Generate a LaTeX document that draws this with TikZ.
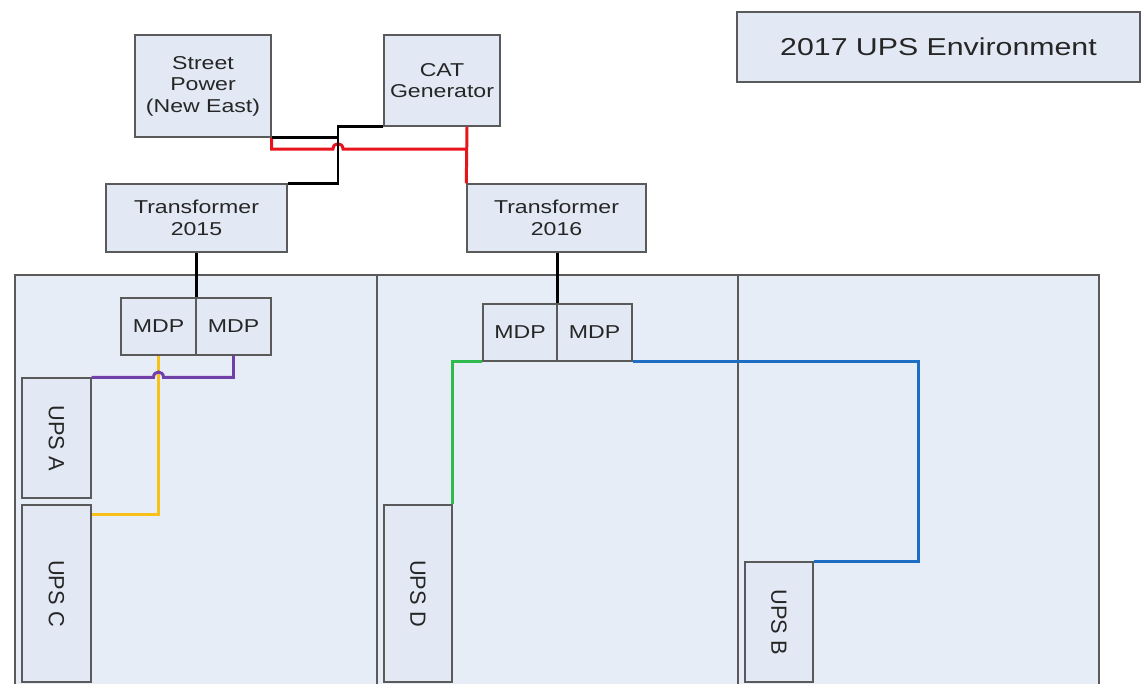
\documentclass[tikz,border=0pt]{standalone}
\usepackage{fontspec}
\setmainfont{Liberation Sans}
\newfontfamily\widesans[FakeStretch=1.24]{Liberation Sans}
\usepackage{xcolor}
\usetikzlibrary{calc}
\definecolor{boxfill}{HTML}{E2E9F4}
\definecolor{roomfill}{HTML}{E7EDF7}
\definecolor{edge}{HTML}{5A5A5A}
\definecolor{wpurple}{HTML}{7040A8}
\definecolor{wyellow}{HTML}{F7C11A}
\definecolor{wgreen}{HTML}{2EBA4E}
\definecolor{wblue}{HTML}{1E6EC4}
\definecolor{wred}{HTML}{E8141B}
\newcommand{\upslabel}[1]{\rotatebox{-90}{\scalebox{1}[1.25]{\fontsize{10}{12}\selectfont #1}}}
\tikzset{
  box/.style={draw=edge, fill=boxfill, line width=0.8pt, inner sep=0pt, align=center, text=black!85, font=\widesans\fontsize{10.6}{12.2}\selectfont},
  room/.style={draw=edge, fill=roomfill, line width=0.8pt, inner sep=0pt},
  wire/.style={line width=1.7pt}
}

\begin{document}
\begin{tikzpicture}[x=0.2mm, y=-0.2mm]
	\useasboundingbox (0,0) rectangle (1143,683);
	\clip (0,0) rectangle (1143,683);
	\fill[white] (0,0) rectangle (1143,683);
	
	% rooms
	\node[room, minimum width=72.4mm, minimum height=85mm] (room1) at (196,487.5) {};
	\node[room, minimum width=72.2mm, minimum height=85mm] (room2) at (557.5,487.5) {};
	\node[room, minimum width=72.2mm, minimum height=85mm] (room3) at (918.5,487.5) {};
	
	% sources
	\node[box, minimum width=27.2mm, minimum height=20.4mm] (street) at (203,86) {Street\\Power\\(New East)};
	\node[box, minimum width=23.2mm, minimum height=18.2mm] (cat) at (442,80.5) {CAT\\Generator};
	\node[box, minimum width=80.6mm, minimum height=14mm, font=\widesans\fontsize{13.9}{16}\selectfont] (title) at (938.5,47) {2017 UPS Environment};
	
	\node[box, minimum width=36.2mm, minimum height=13.6mm] (tr15) at (196.5,218) {Transformer\\2015};
	\node[box, minimum width=35.8mm, minimum height=13.6mm] (tr16) at (556.5,218) {Transformer\\2016};
	
	% panels
	\node[box, minimum width=15mm, minimum height=11.4mm] (mdp1a) at (158.5,326.5) {MDP};
	\node[box, minimum width=15mm, minimum height=11.4mm] (mdp1b) at (233.5,326.5) {MDP};
	\node[box, minimum width=14.8mm, minimum height=11.4mm] (mdp2a) at (520,332.5) {MDP};
	\node[box, minimum width=15mm, minimum height=11.4mm] (mdp2b) at (594.5,332.5) {MDP};
	
	% ups units
	\node[box, minimum width=13.8mm, minimum height=24mm] (upsA) at (56.5,438) {\upslabel{UPS A}};
	\node[box, minimum width=13.8mm, minimum height=35.4mm] (upsC) at (56.5,593.5) {\upslabel{UPS C}};
	\node[box, minimum width=13.6mm, minimum height=35.4mm] (upsD) at (418,593.5) {\upslabel{UPS D}};
	\node[box, minimum width=13.6mm, minimum height=24mm] (upsB) at (779,622) {\upslabel{UPS B}};
	
	\coordinate (bj) at (338,0);
	\coordinate (rj) at (467,149);
	\coordinate (ybend) at (158.5,514);
	\coordinate (bx) at (918,0);
	
	% feeds to transformers
	\draw[wire, wred] (cat.south -| rj) -- (tr16.north west);
	\draw[wire, wred] (street.south east) -- (street.south east |- rj)
		-- ($(bj |- rj)+(-5,0)$) .. controls +(0,-7) and +(0,-7) .. ($(bj |- rj)+(5,0)$) -- (rj);
	\draw[wire, black] (street.south east) -- (street.south east -| bj);
	\draw[wire, black] (cat.south west) -- (cat.south west -| bj) -- (bj |- tr15.north) -- (tr15.north east);
	
	\draw[wire, black] (mdp1a.north east |- tr15.south) -- (mdp1a.north east);
	\draw[wire, black] (mdp2a.north east |- tr16.south) -- (mdp2a.north east);
	
	% feeds to ups
	\draw[wire, wyellow] (mdp1a.south) -- (ybend) -- (ybend -| upsC.east);
	\draw[wire, wpurple] (mdp1b.south) -- (mdp1b.south |- upsA.north)
		-- ($(mdp1a.south |- upsA.north)+(5,0)$) .. controls +(0,-7) and +(0,-7) .. ($(mdp1a.south |- upsA.north)+(-5,0)$) -- (upsA.north east);
	\draw[wire, wgreen] (mdp2a.south west) -- (upsD.north east |- mdp2a.south) -- (upsD.north east);
	\draw[wire, wblue] (mdp2b.south east) -- (bx |- mdp2b.south) -- (bx |- upsB.north) -- (upsB.north east);
\end{tikzpicture}
\end{document}
